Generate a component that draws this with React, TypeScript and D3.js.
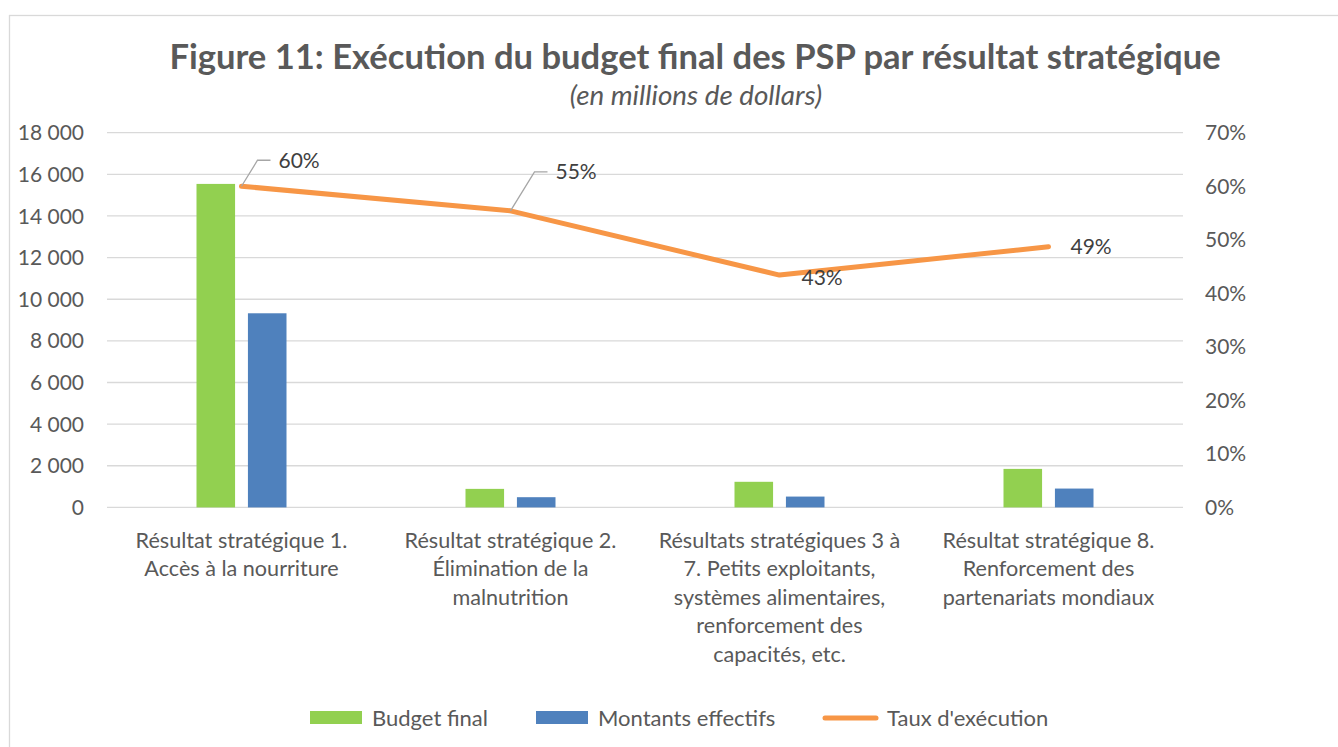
import React, { useEffect, useRef } from "react";
import * as d3 from "d3";

const categories: string[][] = [
  ["Résultat stratégique 1.", "Accès à la nourriture"],
  ["Résultat stratégique 2.", "Élimination de la", "malnutrition"],
  ["Résultats stratégiques 3 à", "7. Petits exploitants,", "systèmes alimentaires,", "renforcement des", "capacités, etc."],
  ["Résultat stratégique 8.", "Renforcement des", "partenariats mondiaux"],
];
const budgetFinal = [15540, 890, 1230, 1850];
const montantsEffectifs = [9325, 490, 520, 905];
const tauxExecution = [0.60, 0.554, 0.434, 0.487];
const tauxLabels = ["60%", "55%", "43%", "49%"];
const leftTicks = [0, 2000, 4000, 6000, 8000, 10000, 12000, 14000, 16000, 18000];
const rightTicks = [0, 0.1, 0.2, 0.3, 0.4, 0.5, 0.6, 0.7];
const seriesNames = ["Budget final", "Montants effectifs", "Taux d'exécution"];

const W = 1338;
const H = 747;
const FONT = "Lato, 'Open Sans', sans-serif";
const TEXT = "#595959";
const GREEN = "#92D050";
const BLUE = "#4F81BD";
const ORANGE = "#F79646";
const GRID = "#D9D9D9";

export default function App() {
  const ref = useRef<SVGSVGElement>(null);
  useEffect(() => {
    const svg = d3.select(ref.current);
    svg.selectAll("*").remove();

    const plot = { left: 107, right: 1183, top: 132.7, bottom: 507.4 };
    const x = d3.scaleBand<number>().domain(d3.range(categories.length)).range([plot.left, plot.right]).padding(0);
    const yL = d3.scaleLinear().domain([0, 18000]).range([plot.bottom, plot.top]);
    const yR = d3.scaleLinear().domain([0, 0.7]).range([plot.bottom, plot.top]);
    const inner = d3.scaleBand<number>().domain([0, 1]).range([-45, 45]).paddingInner(0.25);

    // border
    svg.append("rect").attr("x", 9.5).attr("y", 15.5).attr("width", 1340).attr("height", 745)
      .attr("fill", "#fff").attr("stroke", GRID).attr("stroke-width", 1.3);

    // title
    svg.append("text").attr("x", 695).attr("y", 69).attr("text-anchor", "middle")
      .attr("font-family", FONT).attr("font-weight", 700).attr("font-size", 34.6).attr("fill", TEXT)
      .text("Figure 11: Exécution du budget final des PSP par résultat stratégique");
    svg.append("text").attr("x", 696).attr("y", 105).attr("text-anchor", "middle")
      .attr("font-family", FONT).attr("font-style", "italic").attr("font-size", 27.8).attr("fill", TEXT)
      .text("(en millions de dollars)");

    // gridlines
    svg.append("g").selectAll("line").data(leftTicks).join("line")
      .attr("x1", plot.left).attr("x2", plot.right)
      .attr("y1", d => yL(d)).attr("y2", d => yL(d))
      .attr("stroke", GRID).attr("stroke-width", 1.3);

    // left axis labels
    const fmt = (v: number) => d3.format(",")(v).replace(/,/g, " ");
    svg.append("g").selectAll("text").data(leftTicks).join("text")
      .attr("x", 84).attr("y", d => yL(d)).attr("dy", "0.36em").attr("text-anchor", "end")
      .attr("font-family", FONT).attr("font-size", 21).attr("fill", TEXT)
      .text(d => fmt(d));

    // right axis labels
    svg.append("g").selectAll("text").data(rightTicks).join("text")
      .attr("x", 1205).attr("y", d => yR(d)).attr("dy", "0.36em").attr("text-anchor", "start")
      .attr("font-family", FONT).attr("font-size", 21).attr("fill", TEXT)
      .text(d => d3.format(".0%")(d));

    // bars
    const cx = (i: number) => (x(i) as number) + x.bandwidth() / 2;
    const series = [budgetFinal, montantsEffectifs];
    const colors = [GREEN, BLUE];
    series.forEach((vals, s) => {
      svg.append("g").selectAll("rect").data(vals).join("rect")
        .attr("x", (_, i) => cx(i) + (inner(s) as number))
        .attr("width", inner.bandwidth())
        .attr("y", d => yL(d))
        .attr("height", d => plot.bottom - yL(d))
        .attr("fill", colors[s]);
    });

    // line
    const line = d3.line<number>().x((_, i) => cx(i)).y(d => yR(d));
    svg.append("path").datum(tauxExecution).attr("d", line)
      .attr("fill", "none").attr("stroke", ORANGE).attr("stroke-width", 5)
      .attr("stroke-linecap", "round").attr("stroke-linejoin", "round");

    // data labels with leader lines
    const labelPos = [
      { dx: 37, dy: -26, leader: true },
      { dx: 45, dy: -39, leader: true },
      { dx: 22, dy: 2, leader: false },
      { dx: 22, dy: 0, leader: false },
    ];
    tauxExecution.forEach((v, i) => {
      const px = cx(i);
      const py = yR(v);
      const p = labelPos[i];
      if (p.leader) {
        const ex = px + p.dx - 21;
        const ey = py + p.dy;
        svg.append("polyline")
          .attr("points", `${px},${py} ${ex},${ey} ${ex + 13},${ey}`)
          .attr("fill", "none").attr("stroke", "#A6A6A6").attr("stroke-width", 1.3);
      }
      svg.append("text").attr("x", px + p.dx).attr("y", py + p.dy).attr("dy", "0.36em")
        .attr("font-family", FONT).attr("font-size", 21).attr("fill", "#404040")
        .text(tauxLabels[i]);
    });

    // category labels
    categories.forEach((lines, i) => {
      const t = svg.append("text").attr("text-anchor", "middle")
        .attr("font-family", FONT).attr("font-size", 21.6).attr("fill", TEXT);
      lines.forEach((ln, j) => {
        t.append("tspan").attr("x", cx(i)).attr("y", 548 + j * 28.4).text(ln);
      });
    });

    // legend
    const lg = svg.append("g");
    const legendX = [310, 536, 823];
    seriesNames.forEach((name, k) => {
      if (k < 2) {
        lg.append("rect").attr("x", legendX[k]).attr("y", 711).attr("width", 52).attr("height", 13)
          .attr("fill", colors[k]);
      } else {
        lg.append("line").attr("x1", legendX[k] + 2).attr("x2", legendX[k] + 53)
          .attr("y1", 718).attr("y2", 718).attr("stroke", ORANGE).attr("stroke-width", 5)
          .attr("stroke-linecap", "round");
      }
      lg.append("text").attr("x", legendX[k] + (k < 2 ? 62 : 64)).attr("y", 718).attr("dy", "0.36em")
        .attr("font-family", FONT).attr("font-size", 22).attr("fill", TEXT).text(name);
    });
  }, []);

  return (
    <div style={{ position: "absolute", left: 0, top: 0, width: W, height: H, background: "#fff" }}>
      <svg ref={ref} width={W} height={H} style={{ display: "block" }} />
    </div>
  );
}
